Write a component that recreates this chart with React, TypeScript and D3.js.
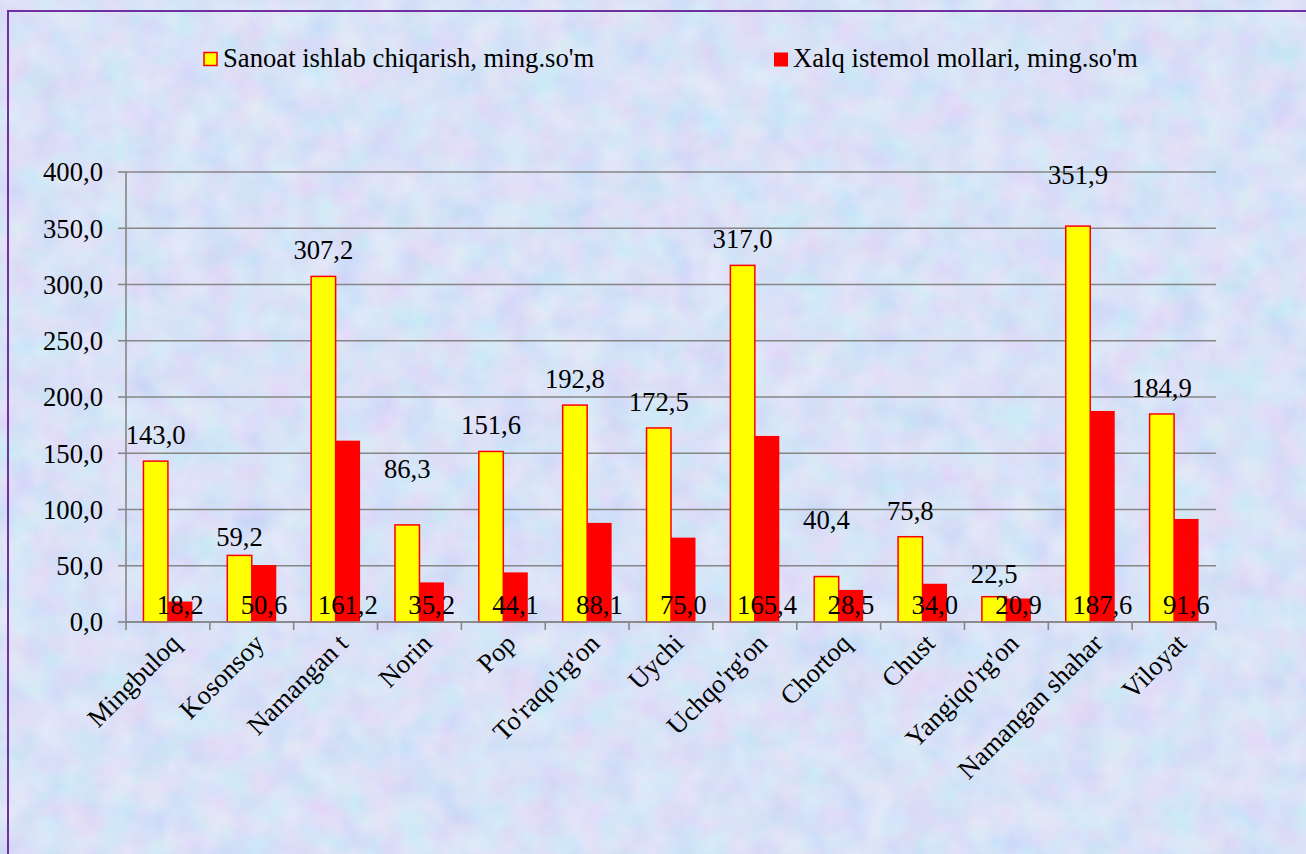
import React from "react";
import * as d3 from "d3";

const categories = [
  "Mingbuloq", "Kosonsoy", "Namangan t", "Norin", "Pop", "To'raqo'rg'on",
  "Uychi", "Uchqo'rg'on", "Chortoq", "Chust", "Yangiqo'rg'on", "Namangan shahar", "Viloyat",
];
const sanoat = [143.0, 59.2, 307.2, 86.3, 151.6, 192.8, 172.5, 317.0, 40.4, 75.8, 22.5, 351.9, 184.9];
const xalq = [18.2, 50.6, 161.2, 35.2, 44.1, 88.1, 75.0, 165.4, 28.5, 34.0, 20.9, 187.6, 91.6];
const seriesNames = ["Sanoat ishlab chiqarish, ming.so'm", "Xalq istemol mollari, ming.so'm"];
const yTicks = [0, 50, 100, 150, 200, 250, 300, 350, 400];
// manual nudges of the upper labels, as moved in the original
const labelNudge = [0, 8, 0, -30, 0, 0, 0, 0, -31, 0, 3, -25, 0];

const W = 1306, H = 854;
const FONT = "Liberation Serif, Times New Roman, serif";
const FS = 26.67;
const fmt = (v: number) => v.toFixed(1).replace(".", ",");

export default function App() {
  const x0 = d3.scaleBand<string>().domain(categories).range([126, 1216]).paddingInner(0.416).paddingOuter(0.208);
  const x1 = d3.scaleBand<string>().domain(["a", "b"]).range([0, x0.bandwidth()]).padding(0);
  const y = d3.scaleLinear().domain([0, 400]).range([622, 172]);
  const step = x0.step();
  const left = 126, right = 1216;

  return (
    <svg width={W} height={H} style={{ position: "absolute", left: 0, top: 0, display: "block" }}>
      <defs>
        <filter id="tex" x="0" y="0" width="100%" height="100%">
          <feTurbulence type="fractalNoise" baseFrequency="0.03" numOctaves={3} seed={7} />
          <feColorMatrix type="matrix" values="0.7 0 0 0 0.5  0 0.5 0 0 0.62  0 0 0.15 0 0.88  0 0 0 0 0.5" />
        </filter>
      </defs>
      <rect x={0} y={0} width={W} height={H} fill="#c4d4f4" />
      <rect x={0} y={0} width={W} height={H} filter="url(#tex)" />
      <rect x={8} y={11} width={W + 20} height={H + 20} fill="none" stroke="#7030a0" strokeWidth={2} />

      {/* legend */}
      <rect x={204} y={52.5} width={13} height={13} fill="#ffff00" stroke="#ff0000" strokeWidth={1.5} />
      <text x={223} y={67} fontFamily={FONT} fontSize={FS} fill="#000">{seriesNames[0]}</text>
      <rect x={774} y={52.5} width={14} height={14} fill="#ff0000" />
      <text x={793} y={67} fontFamily={FONT} fontSize={FS} fill="#000">{seriesNames[1]}</text>

      {/* gridlines */}
      {yTicks.map((t) => (
        <line key={"g" + t} x1={left} x2={right} y1={y(t)} y2={y(t)} stroke="#868686" strokeWidth={1.6} />
      ))}
      {/* y axis */}
      <line x1={left} x2={left} y1={y(400)} y2={y(0)} stroke="#868686" strokeWidth={1.6} />
      {yTicks.map((t) => (
        <g key={"yt" + t}>
          <line x1={left - 8} x2={left} y1={y(t)} y2={y(t)} stroke="#868686" strokeWidth={1.6} />
          <text x={103} y={y(t)} dy="0.35em" textAnchor="end" fontFamily={FONT} fontSize={FS} fill="#000">{fmt(t)}</text>
        </g>
      ))}
      {/* x axis ticks */}
      {d3.range(categories.length + 1).map((i) => (
        <line key={"xt" + i} x1={left + i * step} x2={left + i * step} y1={y(0)} y2={y(0) + 8} stroke="#868686" strokeWidth={1.6} />
      ))}

      {/* bars */}
      {categories.map((c, i) => {
        const gx = x0(c)!;
        const ax = gx + x1("a")!;
        const bx = gx + x1("b")!;
        const bw = x1.bandwidth();
        return (
          <g key={c}>
            <rect x={ax} y={y(sanoat[i])} width={bw} height={y(0) - y(sanoat[i])} fill="#ffff00" stroke="#ff0000" strokeWidth={1.5} />
            <rect x={bx} y={y(xalq[i])} width={bw} height={y(0) - y(xalq[i])} fill="#ff0000" />
          </g>
        );
      })}
      {/* x axis line */}
      <line x1={left} x2={right} y1={y(0)} y2={y(0)} stroke="#868686" strokeWidth={1.6} />

      {/* labels */}
      {categories.map((c, i) => {
        const gx = x0(c)!;
        const bw = x1.bandwidth();
        const acx = gx + x1("a")! + bw / 2;
        const bcx = gx + x1("b")! + bw / 2;
        return (
          <g key={"l" + c}>
            <text x={acx} y={y(sanoat[i]) - 17 + labelNudge[i]} textAnchor="middle" fontFamily={FONT} fontSize={FS} fill="#000">{fmt(sanoat[i])}</text>
            <text x={bcx} y={y(0) - 8} textAnchor="middle" fontFamily={FONT} fontSize={FS} fill="#000">{fmt(xalq[i])}</text>
          </g>
        );
      })}

      {/* category labels */}
      {categories.map((c) => {
        const cx = x0(c)! + x0.bandwidth() / 2;
        const ax = cx + 14, ay = 645;
        return (
          <text key={"c" + c} x={ax} y={ay} transform={`rotate(-45 ${ax} ${ay})`} textAnchor="end" fontFamily={FONT} fontSize={FS} fill="#000">{c}</text>
        );
      })}
    </svg>
  );
}
